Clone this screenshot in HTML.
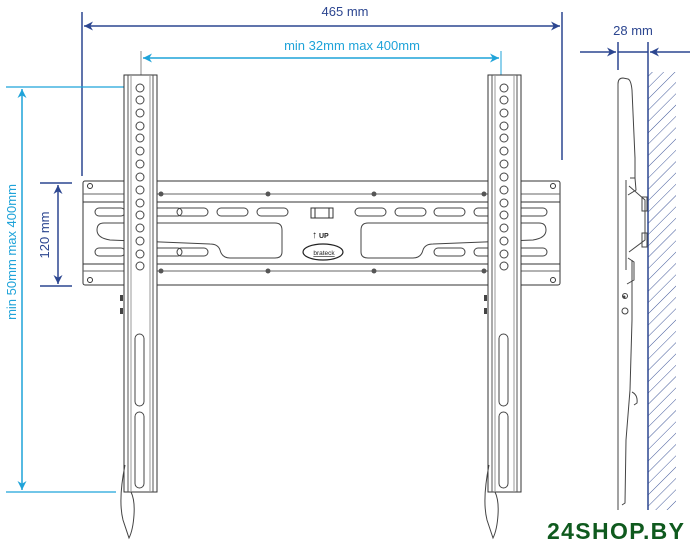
<!DOCTYPE html>
<html><head><meta charset="utf-8"><style>
html,body{margin:0;padding:0;background:#fff;width:692px;height:550px;overflow:hidden}
svg{display:block}
text{font-family:"Liberation Sans",sans-serif}
</style></head><body>
<svg width="692" height="550" viewBox="0 0 692 550" xmlns="http://www.w3.org/2000/svg">
<defs>
<marker id="ab" viewBox="0 0 10 10" refX="10" refY="5" markerWidth="9" markerHeight="9" orient="auto-start-reverse" markerUnits="userSpaceOnUse"><path d="M0,0 L10,5 L0,10 L3,5 z" fill="#2c4690"/></marker>
<marker id="ac" viewBox="0 0 10 10" refX="10" refY="5" markerWidth="9" markerHeight="9" orient="auto-start-reverse" markerUnits="userSpaceOnUse"><path d="M0,0 L10,5 L0,10 L3,5 z" fill="#1fa3d9"/></marker>
<pattern id="hatch" width="8" height="8" patternUnits="userSpaceOnUse" patternTransform="rotate(45)"><line x1="0" y1="0" x2="0" y2="8" stroke="#2c4690" stroke-width="0.9"/></pattern>
</defs>

<!-- 465 mm -->
<line x1="82" y1="12" x2="82" y2="176" stroke="#2c4690" stroke-width="1.5"/>
<line x1="562" y1="12" x2="562" y2="160" stroke="#2c4690" stroke-width="1.5"/>
<line x1="84" y1="26" x2="560" y2="26" stroke="#2c4690" stroke-width="1.5" marker-start="url(#ab)" marker-end="url(#ab)"/>
<text x="345" y="16" font-size="13" fill="#2c4690" text-anchor="middle">465 mm</text>

<!-- min 32 max 400 -->
<line x1="141" y1="51" x2="141" y2="88" stroke="#888" stroke-width="1"/>
<line x1="501" y1="51" x2="501" y2="88" stroke="#1fa3d9" stroke-width="1"/>
<line x1="143" y1="58" x2="499" y2="58" stroke="#1fa3d9" stroke-width="1.5" marker-start="url(#ac)" marker-end="url(#ac)"/>
<text x="352" y="50" font-size="13" fill="#1fa3d9" text-anchor="middle">min 32mm max 400mm</text>

<!-- vertical cyan -->
<line x1="6" y1="87" x2="124" y2="87" stroke="#1fa3d9" stroke-width="1.3"/>
<line x1="6" y1="492" x2="116" y2="492" stroke="#1fa3d9" stroke-width="1.3"/>
<line x1="22" y1="89" x2="22" y2="490" stroke="#1fa3d9" stroke-width="1.5" marker-start="url(#ac)" marker-end="url(#ac)"/>
<text transform="translate(16,252) rotate(-90)" font-size="13" fill="#1fa3d9" text-anchor="middle">min 50mm max 400mm</text>

<!-- 120 mm -->
<line x1="40" y1="183" x2="72" y2="183" stroke="#2c4690" stroke-width="1.5"/>
<line x1="40" y1="286" x2="72" y2="286" stroke="#2c4690" stroke-width="1.5"/>
<line x1="58" y1="185" x2="58" y2="284" stroke="#2c4690" stroke-width="1.5" marker-start="url(#ab)" marker-end="url(#ab)"/>
<text transform="translate(49,235) rotate(-90)" font-size="13" fill="#2c4690" text-anchor="middle">120 mm</text>

<!-- horizontal plate -->
<g stroke="#333" stroke-width="1" fill="none">
<rect x="83" y="181" width="477" height="104" rx="2"/>
<line x1="83" y1="194" x2="560" y2="194" stroke="#666"/>
<line x1="83" y1="202" x2="560" y2="202"/>
<line x1="83" y1="264" x2="560" y2="264"/>
<line x1="83" y1="271" x2="560" y2="271" stroke="#666"/>
<g stroke="#444">
<rect x="95" y="208" width="30" height="8" rx="4"/><rect x="152" y="208" width="30" height="8" rx="4"/><rect x="177" y="208" width="31" height="8" rx="4"/><rect x="217" y="208" width="31" height="8" rx="4"/><rect x="257" y="208" width="31" height="8" rx="4"/>
<rect x="95" y="248" width="30" height="8" rx="4"/><rect x="152" y="248" width="30" height="8" rx="4"/><rect x="177" y="248" width="31" height="8" rx="4"/>
<rect x="355" y="208" width="31" height="8" rx="4"/><rect x="395" y="208" width="31" height="8" rx="4"/><rect x="434" y="208" width="31" height="8" rx="4"/><rect x="474" y="208" width="31" height="8" rx="4"/><rect x="517" y="208" width="30" height="8" rx="4"/>
<rect x="434" y="248" width="31" height="8" rx="4"/><rect x="474" y="248" width="31" height="8" rx="4"/><rect x="517" y="248" width="30" height="8" rx="4"/>
<path d="M104,223 H275 Q282,223 282,230 V252 Q282,258 275,258 H230 Q222,258 220,250 Q218,244 210,244 L110,240 Q97,238 97,230 Q97,223 104,223 Z"/>
<path d="M539,223 H368 Q361,223 361,230 V252 Q361,258 368,258 H413 Q421,258 423,250 Q425,244 433,244 L533,240 Q546,238 546,230 Q546,223 539,223 Z"/>
</g>
<circle cx="90" cy="186" r="2.5"/><circle cx="90" cy="280" r="2.5"/>
<circle cx="553" cy="186" r="2.5"/><circle cx="553" cy="280" r="2.5"/>
</g>
<g fill="#555">
<circle cx="161" cy="194" r="2.5"/><circle cx="268" cy="194" r="2.5"/><circle cx="374" cy="194" r="2.5"/><circle cx="484" cy="194" r="2.5"/>
<circle cx="161" cy="271" r="2.5"/><circle cx="268" cy="271" r="2.5"/><circle cx="374" cy="271" r="2.5"/><circle cx="484" cy="271" r="2.5"/>
</g>
<!-- center badge -->
<rect x="311" y="208" width="22" height="10" fill="#fff" stroke="#333"/>
<line x1="315" y1="208" x2="315" y2="218" stroke="#333"/><line x1="329" y1="208" x2="329" y2="218" stroke="#333"/>
<text x="312" y="238" font-size="10" fill="#222">↑</text><text x="319" y="238" font-size="7" font-weight="bold" fill="#222">UP</text>
<ellipse cx="323" cy="252" rx="20" ry="8" fill="#fff" stroke="#222" stroke-width="1.2"/>
<text x="324" y="255" font-size="6.5" fill="#222" text-anchor="middle" text-decoration="underline">brateck</text>

<!-- rails -->
<g id="rail">
<rect x="124" y="75" width="33" height="417" fill="#fff" stroke="#333"/>
<line x1="128" y1="75" x2="128" y2="492" stroke="#555"/><line x1="131" y1="75" x2="131" y2="492" stroke="#999"/>
<line x1="150" y1="75" x2="150" y2="492" stroke="#999"/><line x1="153" y1="75" x2="153" y2="492" stroke="#555"/>
<g fill="none" stroke="#444">
<circle cx="140" cy="88" r="4"/><circle cx="140" cy="100" r="4"/><circle cx="140" cy="113" r="4"/><circle cx="140" cy="126" r="4"/><circle cx="140" cy="138" r="4"/><circle cx="140" cy="151" r="4"/><circle cx="140" cy="164" r="4"/><circle cx="140" cy="177" r="4"/><circle cx="140" cy="190" r="4"/><circle cx="140" cy="203" r="4"/><circle cx="140" cy="215" r="4"/><circle cx="140" cy="228" r="4"/><circle cx="140" cy="241" r="4"/><circle cx="140" cy="254" r="4"/><circle cx="140" cy="266" r="4"/>
<rect x="135" y="334" width="9" height="72" rx="4.5"/><rect x="135" y="412" width="9" height="76" rx="4.5"/>
<path d="M125,465 Q118,500 123,520 Q128,535 129,538 Q133,530 134,515 Q135,500 131,492"/>
</g>
<rect x="120" y="295" width="3" height="6" fill="#444"/><rect x="120" y="308" width="3" height="6" fill="#444"/>
</g>
<use href="#rail" transform="translate(364,0)"/>

<!-- side view -->
<line x1="618" y1="42" x2="618" y2="70" stroke="#2c4690" stroke-width="1.5"/>
<line x1="648" y1="42" x2="648" y2="72" stroke="#2c4690" stroke-width="1.5"/>
<line x1="580" y1="52" x2="616" y2="52" stroke="#2c4690" stroke-width="1.5" marker-end="url(#ab)"/>
<line x1="618" y1="52" x2="648" y2="52" stroke="#2c4690" stroke-width="1.5"/>
<line x1="690" y1="52" x2="650" y2="52" stroke="#2c4690" stroke-width="1.5" marker-end="url(#ab)"/>
<text x="633" y="35" font-size="13" fill="#2c4690" text-anchor="middle">28 mm</text>
<rect x="648" y="72" width="28" height="438" fill="url(#hatch)"/>
<line x1="648" y1="72" x2="648" y2="510" stroke="#2c4690" stroke-width="1.5"/>
<g fill="none" stroke="#444" stroke-width="1">
<path d="M618,510 V84 Q618,78 623,78 L628,79 Q631,80 632,90 L635,158 V178"/>
<path d="M622,505 L625,503 L626,440 L630,390 L632,320 L632,260"/>
<path d="M626,180 V270 M630,178 L635,178 L636,190 L628,195"/>
<path d="M629,186 L645,200 V240 L629,252"/>
<rect x="642" y="197" width="5" height="14"/><rect x="642" y="233" width="5" height="14"/>
<path d="M628,258 L634,262 L634,280 L627,284"/>
<circle cx="625" cy="296" r="2.5"/><circle cx="625" cy="311" r="3"/>
<path d="M632,392 Q638,395 637,403 L634,405"/>
</g>
<circle cx="624" cy="297" r="1.5" fill="#444"/>

<text x="547" y="539" font-size="23" font-weight="bold" fill="#0f5a1e" font-family="Liberation Sans, sans-serif" textLength="137">24SHOP.BY</text>
</svg>
</body></html>
